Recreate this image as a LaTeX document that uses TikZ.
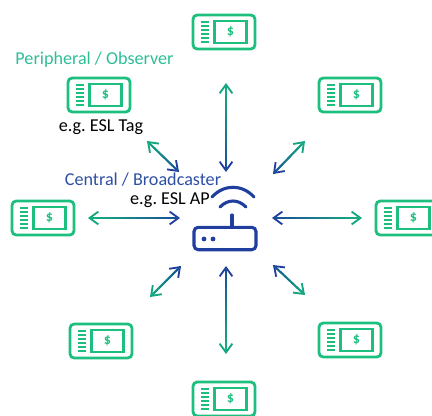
\documentclass[tikz,border=0pt]{standalone}
\usepackage{fontspec}
\setmainfont{Carlito}
\usetikzlibrary{calc}
\usetikzlibrary{arrows.meta}
\definecolor{taggreen}{HTML}{1CBF7E}
\definecolor{routerblue}{HTML}{1F3E9E}
\definecolor{peripheraltext}{HTML}{2DBE96}
\definecolor{centraltext}{HTML}{2F4FA5}
\begin{document}
\begin{tikzpicture}[x=0.025cm,y=-0.025cm]
		\tikzset{tagbox/.style = {draw=taggreen,line width=2pt,rounded corners=3pt,minimum width=1.55cm,minimum height=0.85cm,inner sep=0pt}}
		\tikzset{tagwindow/.style = {draw=taggreen,line width=1.8pt,minimum width=0.8cm,minimum height=0.54cm,inner sep=0pt,text=taggreen,font=\fontsize{10pt}{12pt}\selectfont\bfseries}}
		\tikzset{tagbar/.style = {draw=taggreen,line width=1.2pt}}
		\tikzset{link/.style = {draw=teal,line width=1.3pt,{Straight Barb[length=2.2mm,width=3.2mm,color=taggreen!60!teal]}-{Straight Barb[length=2.2mm,width=3.2mm,color=routerblue]}}}
		\tikzset{router/.style = {draw=routerblue,line width=2.2pt,line cap=round}}
		\tikzset{caption/.style = {inner sep=0pt,font=\fontsize{12.9pt}{15pt}\selectfont}}
		\useasboundingbox (0,0) rectangle (432,415);
		
		% tags
		\foreach \name/\x/\y in {tagn/224/32,tagne/350/95,tage/407/218,tagse/350/340,tags/224/399,tagsw/101/341,tagw/43/218,tagnw/99/95}{
			\node[tagbox] (\name) at (\x,\y) {};
			\node[tagwindow] (\name win) at ($(\name)+(6.5,0)$) {\$};
			\foreach \k in {-9,-5,...,11}
				\draw[tagbar] ($(\name)+(-23,\k-1)$) -- ($(\name)+(-15,\k-1)$);
		}
		
		% router
		\node[router,minimum width=1.55cm,minimum height=0.56cm,rounded corners=3pt,inner sep=0pt] (ap) at (225,238.5) {};
		\coordinate (stem) at (232,215);
		\draw[router] (stem) -- (stem |- ap.north);
		\fill[routerblue] (204,239) circle (2.4) (213,239) circle (2.4);
		\draw[router] (212,197) .. controls (224,184) and (242,184) .. (254,197);
		\draw[router] (220,207) .. controls (228,199) and (238,199) .. (246,207);
		
		% link ends, outer then inner
		\foreach \name/\xa/\ya/\xb/\yb in {n/226/83/226/172,ne/305/141/273/174,e/362/218/272/218,se/305/295/273/265,s/226/354/226/266,sw/150/297/181/266,w/88/218/180/218,nw/147/141/179/172}{
			\coordinate (out\name) at (\xa,\ya);
			\coordinate (in\name) at (\xb,\yb);
			\draw[link] (out\name) -- (in\name);
			\foreach \i in {1,...,17}{
				\pgfmathsetmacro{\mixval}{100*\i/18}
				\draw[color=routerblue!\mixval!taggreen!80!teal,line width=1.3pt] ($(out\name)!\i/18-0.03!(in\name)$) -- ($(out\name)!\i/18+0.03!(in\name)$);
			}
		}
		
		% labels
		\node[caption,text=peripheraltext] (peripheral) at (94.5,60) {Peripheral / Observer};
		\node[caption] (tagtext) at (101,127) {e.g.\ ESL Tag};
		\node[caption,text=centraltext] (central) at (143,180) {Central / Broadcaster};
		\node[caption] (aptext) at (170,200) {e.g.\ ESL AP};
\end{tikzpicture}
\end{document}
